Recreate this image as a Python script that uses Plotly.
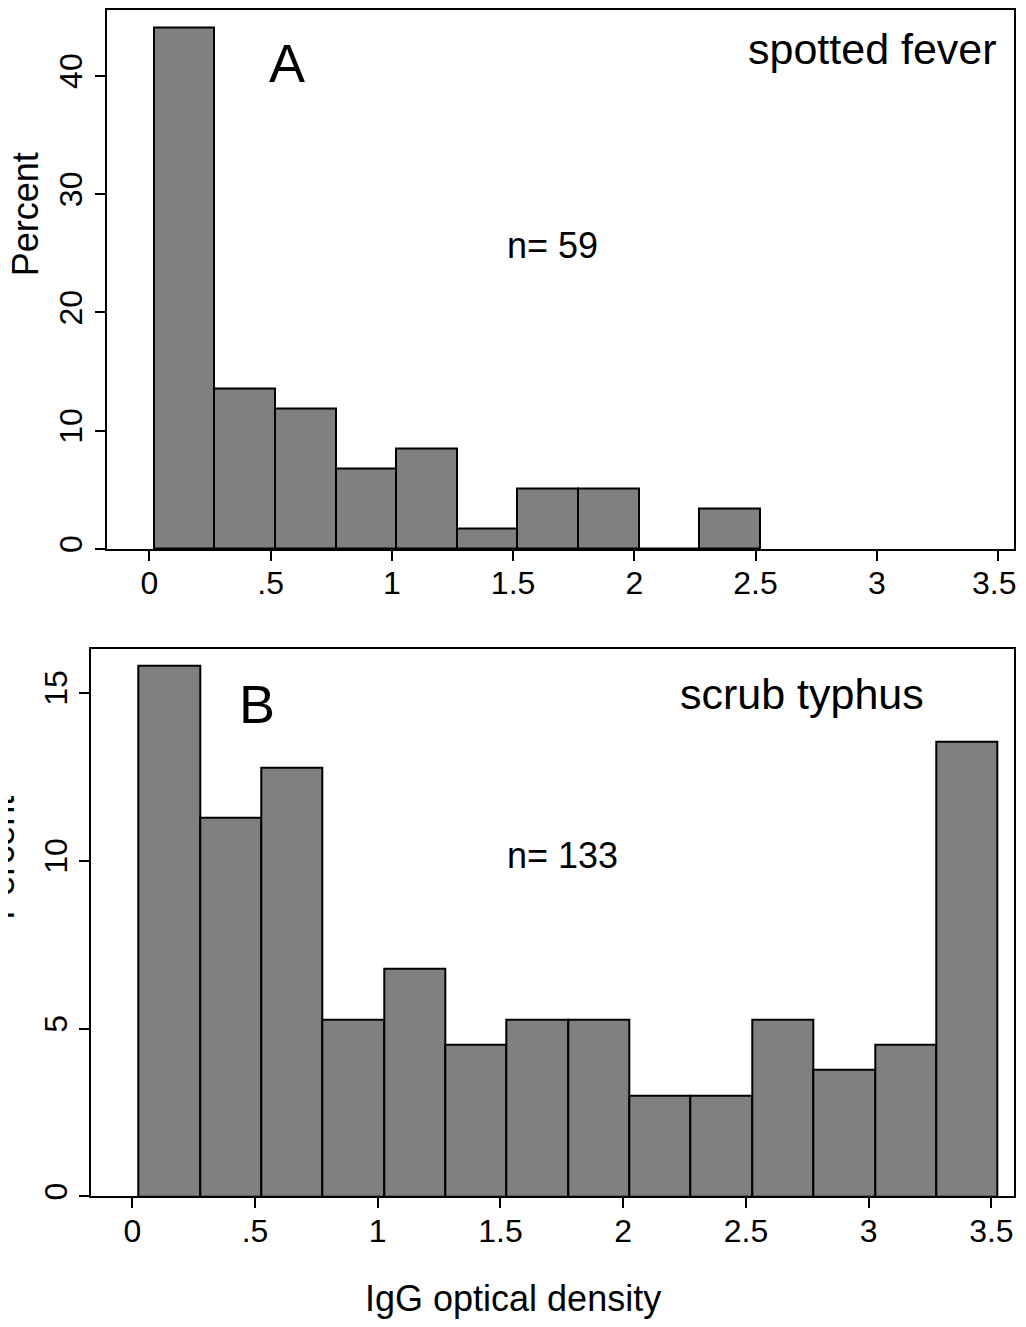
import plotly.graph_objects as go

# ---- data ----
bin_width = 0.25
a_start = 0.018
a_percent = [44.07, 13.56, 11.86, 6.78, 8.47, 1.69, 5.08, 5.08, 0.0, 3.39]
b_start = 0.025
b_percent = [15.79, 11.28, 12.78, 5.26, 6.77, 4.51, 5.26, 5.26, 3.01, 3.01, 5.26, 3.76, 4.51, 13.53]

x_tickvals = [0, 0.5, 1, 1.5, 2, 2.5, 3, 3.5]
x_ticktext = ["0", ".5", "1", "1.5", "2", "2.5", "3", "3.5"]
a_yticks = [0, 10, 20, 30, 40]
b_yticks = [0, 5, 10, 15]

a_centers = [a_start + bin_width * (i + 0.5) for i in range(len(a_percent))]
b_centers = [b_start + bin_width * (i + 0.5) for i in range(len(b_percent))]

FONT = "Liberation Sans, Arial, sans-serif"
OFF = 8  # default page body margin
W, H = 1026 - 2 * OFF, 1327 - 2 * OFF

def px(x):
    return (x - OFF) / W

def py(y):
    return 1 - (y - OFF) / H

fig = go.Figure()
bar_style = dict(marker=dict(color="#808080", line=dict(color="black", width=2)),
                 width=bin_width, showlegend=False, hoverinfo="x+y")
fig.add_trace(go.Bar(x=a_centers, y=a_percent, xaxis="x", yaxis="y", **bar_style))
fig.add_trace(go.Bar(x=b_centers, y=b_percent, xaxis="x2", yaxis="y2", **bar_style))

axis_common = dict(showline=True, linecolor="black", linewidth=2, mirror=True,
                   showgrid=False, zeroline=False, ticks="outside", ticklen=10,
                   tickwidth=1.5, tickcolor="black",
                   tickfont=dict(family=FONT, size=32, color="black"))

# last label of panel A sits at the page edge; drawn as an annotation below
a_xticktext = x_ticktext[:-1] + [""]

fig.update_layout(
    width=W, height=H,
    margin=dict(l=0, r=0, t=0, b=0),
    paper_bgcolor="white", plot_bgcolor="white",
    bargap=0,
    xaxis=dict(domain=[px(107), px(1014)], range=[-0.175, 3.566], anchor="y",
               tickvals=x_tickvals, ticktext=a_xticktext, ticklabelstandoff=-5,
               **axis_common),
    yaxis=dict(domain=[py(550), py(9.5)], range=[0, 45.53], anchor="x",
               tickvals=a_yticks, tickangle=-90, **axis_common),
    xaxis2=dict(domain=[px(91.3), px(1014)], range=[-0.167, 3.592], anchor="y2",
                tickvals=x_tickvals, ticktext=x_ticktext, ticklabelstandoff=-5,
                **axis_common),
    yaxis2=dict(domain=[py(1200), py(650.3)], range=[0, 16.31], anchor="x2",
                tickvals=b_yticks, tickangle=-90, **axis_common),
)

def txt(x, y, s, size, xanchor="center", angle=0):
    fig.add_annotation(x=px(x), y=py(y), xref="paper", yref="paper", text=s,
                       showarrow=False, xanchor=xanchor, yanchor="middle",
                       textangle=angle, font=dict(family=FONT, size=size, color="black"))

txt(1018, 584, x_ticktext[-1], 32, xanchor="right")
txt(287, 62, "A", 54)
txt(999, 48, "spotted fever", 43, xanchor="right")
txt(505, 245, "n= 59", 36, xanchor="left")
txt(257, 706, "B", 54)
txt(678, 696, "scrub typhus", 43, xanchor="left")
txt(505, 858, "n= 133", 36, xanchor="left")
txt(513, 1302, "IgG optical density", 36)
txt(25, 214, "Percent", 36, angle=-90)
txt(2, 860, "Percent", 36, angle=-90)

fig.write_html("out.html", config={"displayModeBar": False})
